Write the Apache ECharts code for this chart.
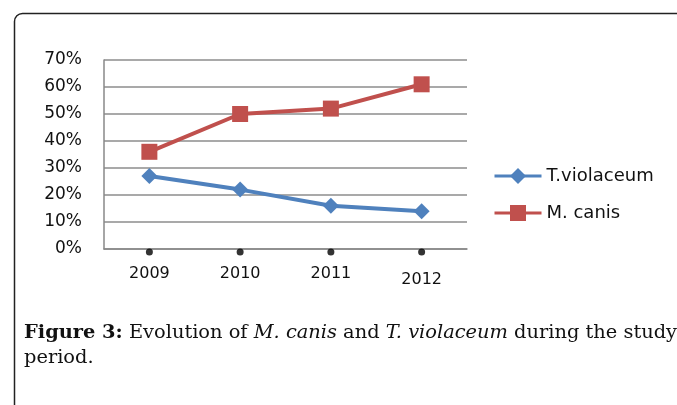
<!DOCTYPE html>
<html>
<head>
<meta charset="utf-8">
<script src="https://cdn.jsdelivr.net/npm/echarts@6/dist/echarts.min.js"></script>
<style>
  html, body { margin: 0; padding: 0; background: #fff; }
  #main { width: 677px; height: 405px; }
</style>
</head>
<body>
<div id="main"></div>
<script>
// 数据
var years = ['2009', '2010', '2011', '2012'];
var tViolaceum = [27, 22, 16, 14];
var mCanis = [36, 50, 52, 61];
var seriesNames = ['T.violaceum', 'M. canis'];

var myChart = echarts.init(document.getElementById('main'));

var labelFont = 'DejaVu Sans';

// x轴下面的小黑点, 每个类别一个, 放在0上
var tickDots = years.map(function () { return 0; });

var option = {
  backgroundColor: '#fff',
  animation: false,
  grid: {
    left: 104,
    right: 210,
    top: 60,
    bottom: 156
  },
  legend: {
    orient: 'vertical',
    left: 488,
    top: 161,
    itemWidth: 47,
    itemHeight: 20,
    itemGap: 17,
    data: seriesNames,
    lineStyle: { width: 3 },
    textStyle: {
      fontFamily: labelFont,
      fontSize: 18,
      color: '#111',
      lineHeight: 20
    }
  },
  xAxis: {
    type: 'category',
    data: years,
    boundaryGap: true,
    axisLine: { lineStyle: { color: '#888', width: 1.5 } },
    axisTick: { show: false },
    axisLabel: {
      interval: 0,
      margin: 17,
      fontFamily: labelFont,
      fontSize: 16,
      color: '#111',
      formatter: function (v, i) {
        // 最后一个标签稍微低一点
        return i === years.length - 1 ? '{low|' + v + '}' : v;
      },
      rich: {
        low: { fontFamily: labelFont, fontSize: 16, color: '#111', padding: [6, 0, 0, 0] }
      }
    }
  },
  yAxis: {
    type: 'value',
    min: 0,
    max: 70,
    interval: 10,
    axisLine: { show: true, lineStyle: { color: '#888', width: 1.5 } },
    axisTick: { show: false },
    splitLine: { lineStyle: { color: '#8c8c8c', width: 1.5 } },
    axisLabel: {
      margin: 22,
      formatter: '{value}%',
      fontFamily: labelFont,
      fontSize: 17,
      color: '#111'
    }
  },
  series: [
    {
      name: seriesNames[0],
      type: 'line',
      data: tViolaceum,
      symbol: 'diamond',
      symbolSize: 16,
      color: '#4f81bd',
      lineStyle: { width: 4 },
      itemStyle: { color: '#4f81bd' },
      z: 3
    },
    {
      name: seriesNames[1],
      type: 'line',
      data: mCanis,
      symbol: 'rect',
      symbolSize: 16,
      color: '#c0504d',
      lineStyle: { width: 4 },
      itemStyle: { color: '#c0504d' },
      z: 3
    },
    {
      name: 'dots',
      type: 'scatter',
      data: tickDots,
      symbol: 'circle',
      symbolSize: 7,
      symbolOffset: [0, 3],
      itemStyle: { color: '#000' },
      silent: true,
      z: 4
    }
  ],
  graphic: [
    { // 外框
      type: 'rect',
      left: 12,
      top: 11,
      shape: { width: 700, height: 420, r: 8 },
      style: { fill: null, stroke: '#222', lineWidth: 1.5 },
      silent: true
    },
    { // 图注
      type: 'text',
      left: 24,
      top: 320,
      style: {
        text: '{b|Figure 3:} Evolution of {i|M. canis} and {i|T. violaceum} during the study\nperiod.',
        fontFamily: 'DejaVu Serif',
        fontSize: 19.4,
        lineHeight: 25,
        fill: '#111',
        rich: {
          b: { fontWeight: 'bold', fontFamily: 'DejaVu Serif', fontSize: 19.4, lineHeight: 25 },
          i: { fontStyle: 'italic', fontFamily: 'DejaVu Serif', fontSize: 19.4, lineHeight: 25 }
        }
      }
    }
  ]
};

myChart.setOption(option);
</script>
</body>
</html>
